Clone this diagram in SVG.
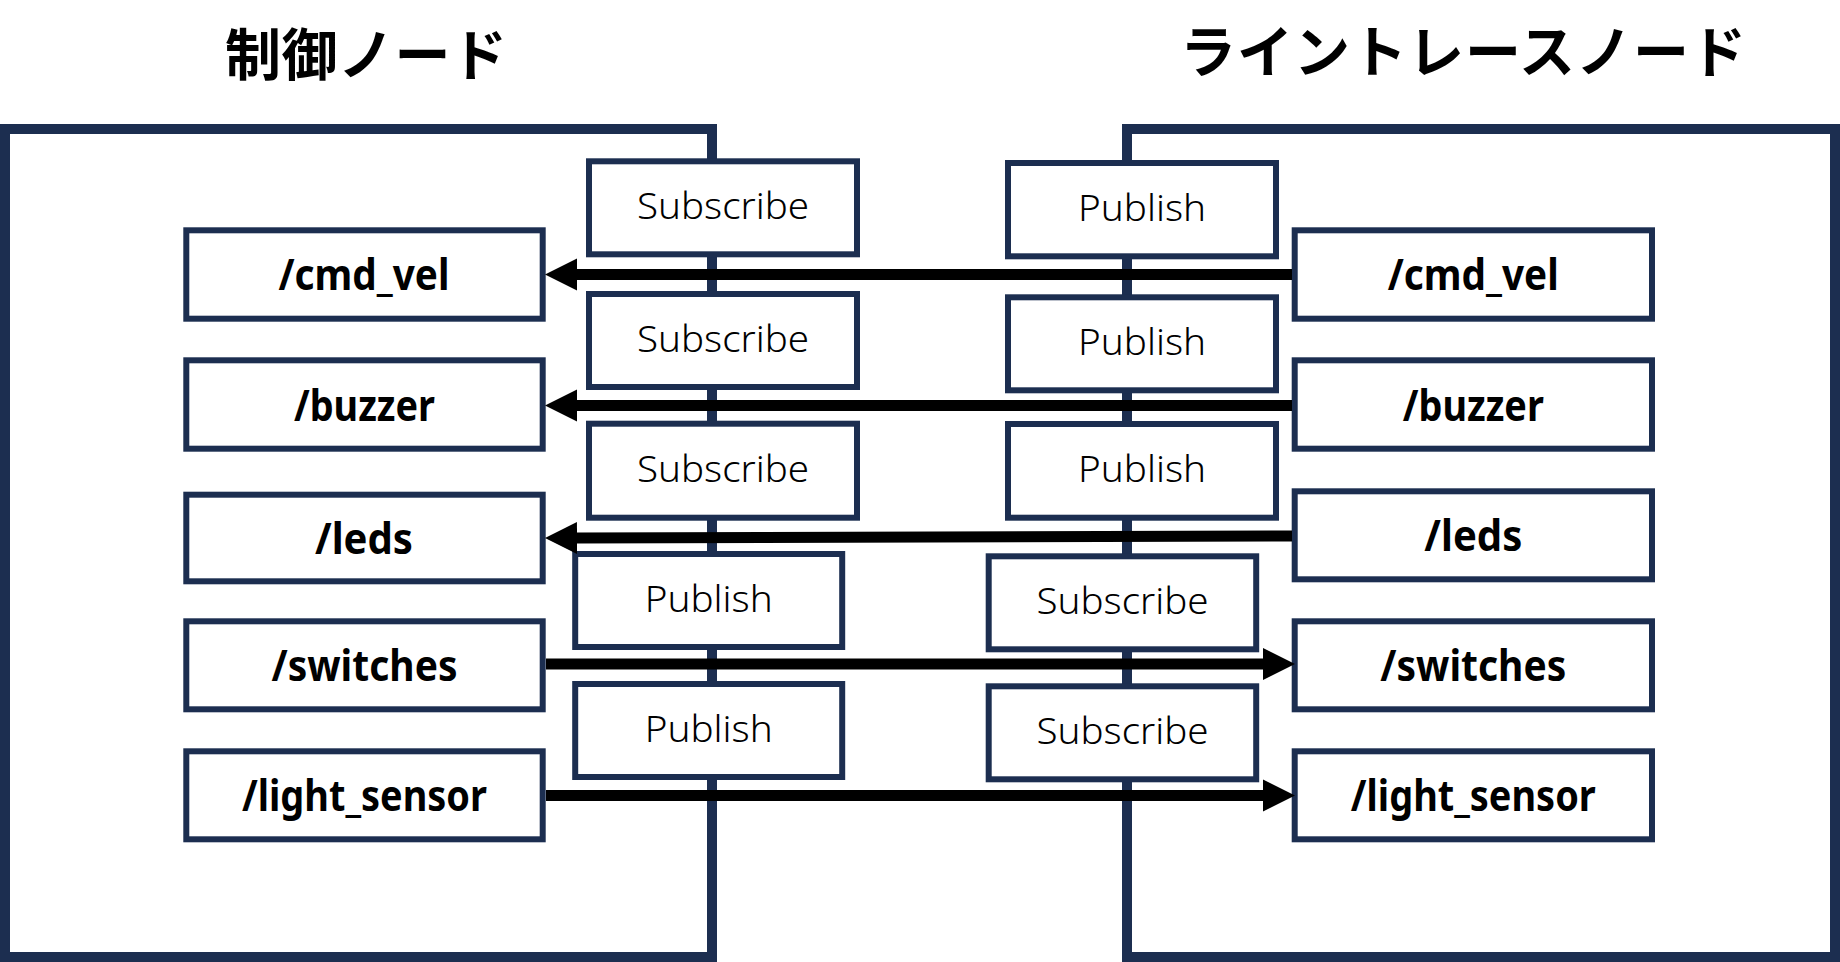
<svg xmlns="http://www.w3.org/2000/svg" width="1840" height="962" viewBox="0 0 1840 962">
<style>
.container{fill:none;stroke:#1c2e50;stroke-width:10}
.box{fill:#ffffff;stroke:#1c2e50;stroke-width:6}
.title{font-family:"Noto Sans CJK JP","Noto Sans",sans-serif;font-weight:bold;font-size:56px;fill:#000000;text-anchor:middle}
.topic{font-family:"Noto Sans","Noto Sans CJK JP",sans-serif;font-weight:bold;font-size:43px;fill:#000000;text-anchor:middle}
.ps{font-family:"Noto Sans","Noto Sans CJK JP",sans-serif;font-weight:300;font-size:37px;fill:#000000;text-anchor:middle}
.conn{fill:none;stroke:#000000;stroke-width:11}
</style>
<defs>
<marker id="arrow" markerUnits="userSpaceOnUse" markerWidth="32" markerHeight="32" refX="0" refY="16" orient="auto" overflow="visible">
<path d="M0,0 L32,16 L0,32 z" fill="#000000"/>
</marker>
</defs>
<rect x="0" y="0" width="1840" height="962" fill="#ffffff"/>

<g id="control-node">
<rect class="container" x="5" y="129" width="707" height="828"/>
<text class="title" x="366" y="75" textLength="282" lengthAdjust="spacing">制御ノード</text>
</g>
<g id="linetrace-node">
<rect class="container" x="1127" y="129" width="708" height="828"/>
<text class="title" x="1463" y="72" textLength="566" lengthAdjust="spacing">ライントレースノード</text>
</g>

<g id="ctrl-sub-cmd_vel"><rect class="box" x="589" y="161.3" width="268" height="93"/><text class="ps" x="723" y="219" textLength="172" lengthAdjust="spacingAndGlyphs">Subscribe</text></g>
<g id="ctrl-sub-buzzer"><rect class="box" x="589" y="294" width="268" height="93"/><text class="ps" x="723" y="352" textLength="172" lengthAdjust="spacingAndGlyphs">Subscribe</text></g>
<g id="ctrl-sub-leds"><rect class="box" x="589" y="423.7" width="268" height="94"/><text class="ps" x="723" y="482" textLength="172" lengthAdjust="spacingAndGlyphs">Subscribe</text></g>
<g id="ctrl-pub-switches"><rect class="box" x="575.2" y="554" width="267" height="93"/><text class="ps" x="708.7" y="612" textLength="128" lengthAdjust="spacingAndGlyphs">Publish</text></g>
<g id="ctrl-pub-light_sensor"><rect class="box" x="575.2" y="684" width="267" height="93"/><text class="ps" x="708.7" y="742" textLength="128" lengthAdjust="spacingAndGlyphs">Publish</text></g>

<g id="lt-pub-cmd_vel"><rect class="box" x="1008" y="163" width="268" height="93.3"/><text class="ps" x="1142" y="221" textLength="128" lengthAdjust="spacingAndGlyphs">Publish</text></g>
<g id="lt-pub-buzzer"><rect class="box" x="1008" y="297.3" width="268" height="93"/><text class="ps" x="1142" y="355" textLength="128" lengthAdjust="spacingAndGlyphs">Publish</text></g>
<g id="lt-pub-leds"><rect class="box" x="1008" y="424" width="268" height="93.7"/><text class="ps" x="1142" y="482" textLength="128" lengthAdjust="spacingAndGlyphs">Publish</text></g>
<g id="lt-sub-switches"><rect class="box" x="988.7" y="556.3" width="267.5" height="93"/><text class="ps" x="1122.5" y="614" textLength="172" lengthAdjust="spacingAndGlyphs">Subscribe</text></g>
<g id="lt-sub-light_sensor"><rect class="box" x="988.7" y="686.3" width="267.5" height="93"/><text class="ps" x="1122.5" y="744" textLength="172" lengthAdjust="spacingAndGlyphs">Subscribe</text></g>

<g id="ctrl-topic-cmd_vel"><rect class="box" x="186.3" y="230.3" width="356.4" height="88.4"/><text class="topic" x="364" y="290" textLength="171" lengthAdjust="spacingAndGlyphs">/cmd_vel</text></g>
<g id="ctrl-topic-buzzer"><rect class="box" x="186.3" y="360.3" width="356.4" height="88.4"/><text class="topic" x="364.5" y="420.5" textLength="141" lengthAdjust="spacingAndGlyphs">/buzzer</text></g>
<g id="ctrl-topic-leds"><rect class="box" x="186.3" y="494.7" width="356.4" height="86.6"/><text class="topic" x="364" y="554" textLength="98" lengthAdjust="spacingAndGlyphs">/leds</text></g>
<g id="ctrl-topic-switches"><rect class="box" x="186.3" y="621.3" width="356.4" height="88"/><text class="topic" x="364.5" y="681" textLength="186" lengthAdjust="spacingAndGlyphs">/switches</text></g>
<g id="ctrl-topic-light_sensor"><rect class="box" x="186.3" y="751.3" width="356.4" height="88"/><text class="topic" x="364.5" y="811" textLength="245" lengthAdjust="spacingAndGlyphs">/light_sensor</text></g>

<g id="lt-topic-cmd_vel"><rect class="box" x="1294.7" y="230.3" width="357.3" height="88.4"/><text class="topic" x="1473.3" y="290" textLength="171" lengthAdjust="spacingAndGlyphs">/cmd_vel</text></g>
<g id="lt-topic-buzzer"><rect class="box" x="1294.7" y="360.3" width="357.3" height="88.4"/><text class="topic" x="1473.3" y="420.5" textLength="141" lengthAdjust="spacingAndGlyphs">/buzzer</text></g>
<g id="lt-topic-leds"><rect class="box" x="1294.7" y="491.3" width="357.3" height="88"/><text class="topic" x="1473.3" y="551" textLength="98" lengthAdjust="spacingAndGlyphs">/leds</text></g>
<g id="lt-topic-switches"><rect class="box" x="1294.7" y="621.3" width="357.3" height="88"/><text class="topic" x="1473.3" y="681" textLength="186" lengthAdjust="spacingAndGlyphs">/switches</text></g>
<g id="lt-topic-light_sensor"><rect class="box" x="1294.7" y="751.3" width="357.3" height="88"/><text class="topic" x="1473.3" y="811" textLength="245" lengthAdjust="spacingAndGlyphs">/light_sensor</text></g>

<g id="connectors">
<line class="conn" x1="1292" y1="274.5" x2="577" y2="274.5" marker-end="url(#arrow)"/>
<line class="conn" x1="1292" y1="405.5" x2="577" y2="405.5" marker-end="url(#arrow)"/>
<line class="conn" x1="1292" y1="536" x2="577" y2="538" marker-end="url(#arrow)"/>
<line class="conn" x1="546" y1="664" x2="1263" y2="664" marker-end="url(#arrow)"/>
<line class="conn" x1="546" y1="795.5" x2="1263" y2="795.5" marker-end="url(#arrow)"/>
</g>
</svg>
